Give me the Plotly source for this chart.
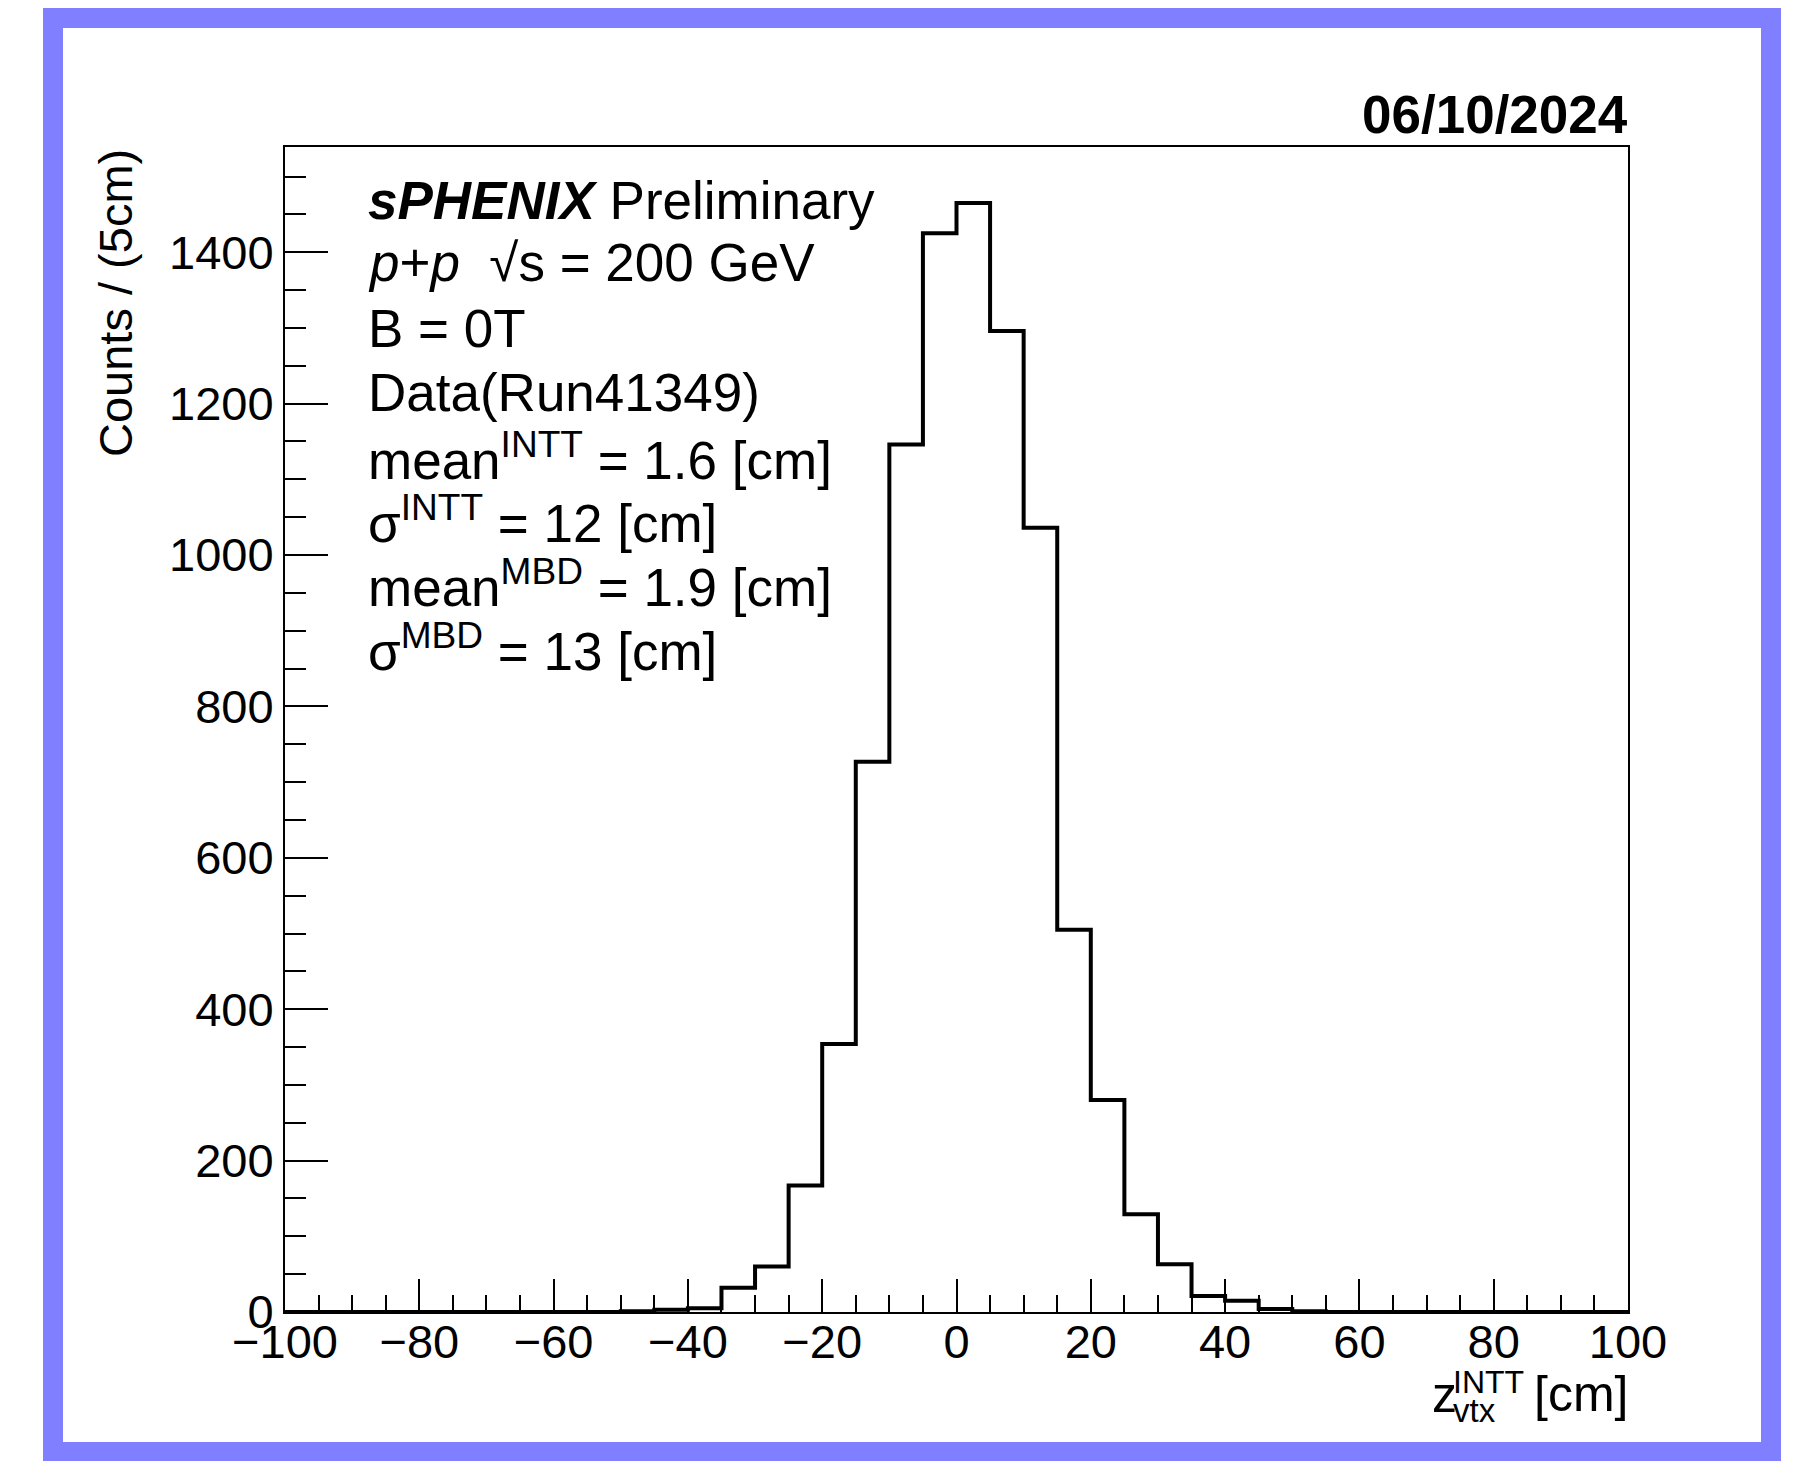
import plotly.graph_objects as go

# ---------------- data ----------------
bin_edges = [-100 + 5 * i for i in range(41)]
counts = [0, 0, 0, 0, 0, 0, 0, 0, 0, 0,
          1, 3, 5, 32, 60, 167, 354, 727, 1146, 1425,
          1465, 1296, 1036, 505, 280, 129, 63, 21, 15, 4,
          1, 0, 0, 0, 0, 0, 0, 0, 0, 0]
legend_lines = [
    "<b><i>sPHENIX</i></b> Preliminary",
    "<i>p</i>+<i>p</i>  √s = 200 GeV",
    "B = 0T",
    "Data(Run41349)",
    "mean<sup>INTT</sup> = 1.6 [cm]",
    "σ<sup>INTT</sup> = 12 [cm]",
    "mean<sup>MBD</sup> = 1.9 [cm]",
    "σ<sup>MBD</sup> = 13 [cm]",
]
date_label = "06/10/2024"
y_title = "Counts / (5cm)"

# ---------------- geometry ----------------
W, H = 1803, 1461
L, R, T, B = 285, 1628, 147, 1312
pw, ph = R - L, B - T


def px(x):
    return (x - L) / pw


def py(y):
    return (B - y) / ph


FONT = "Liberation Sans, Arial, Helvetica, sans-serif"

fig = go.Figure()
fig.add_trace(go.Scatter(
    x=bin_edges, y=counts + [counts[-1]],
    mode="lines", line=dict(color="black", width=4, shape="hv"),
    showlegend=False, hoverinfo="skip", cliponaxis=False,
))

axis_common = dict(
    showline=True, linecolor="black", linewidth=2, mirror=True,
    ticks="inside", tickcolor="black", tickwidth=2,
    showgrid=False, zeroline=False,
    tickfont=dict(family=FONT, size=47, color="black"),
)

fig.update_xaxes(range=[-100, 100], dtick=20, tick0=0, ticklen=33,
                 minor=dict(dtick=5, ticklen=17, ticks="inside", tickcolor="black", tickwidth=2),
                 ticklabelstandoff=-12,
                 **axis_common)
fig.update_yaxes(range=[0, 1539], dtick=200, tick0=0, ticklen=43,
                 minor=dict(dtick=50, ticklen=21, ticks="inside", tickcolor="black", tickwidth=2),
                 **axis_common)

ann = []
# legend text
centers = [204, 267, 332, 396, 460, 523, 587, 651]
for txt, c in zip(legend_lines, centers):
    ann.append(dict(text=txt, x=px(366), y=py(c - 4), xanchor="left", yanchor="middle",
                    font=dict(family=FONT, size=53, color="black")))
# date
ann.append(dict(text="<b>" + date_label + "</b>", x=px(1630), y=py(146), xanchor="right",
                yanchor="bottom", font=dict(family=FONT, size=53, color="black")))
# y title
ann.append(dict(text=y_title, x=px(115), y=1.0, xanchor="center", yanchor="top", textangle=-90,
                font=dict(family=FONT, size=47, color="black")))
# x title pieces
ann.append(dict(text="z", x=px(1430), y=py(1395), xanchor="left", yanchor="middle",
                font=dict(family=FONT, size=50, color="black")))
ann.append(dict(text="INTT", x=px(1451), y=py(1382), xanchor="left", yanchor="middle",
                font=dict(family=FONT, size=32, color="black")))
ann.append(dict(text="vtx", x=px(1451), y=py(1411), xanchor="left", yanchor="middle",
                font=dict(family=FONT, size=33, color="black")))
ann.append(dict(text="[cm]", x=px(1630), y=py(1394), xanchor="right", yanchor="middle",
                font=dict(family=FONT, size=50, color="black")))
for a in ann:
    a.update(xref="paper", yref="paper", showarrow=False)

shapes = [dict(type="rect", xref="paper", yref="paper",
               x0=px(53), x1=px(1771), y0=py(1452), y1=py(18),
               line=dict(color="#7f7fff", width=20), layer="below")]

fig.update_layout(
    width=W, height=H,
    margin=dict(l=L, r=W - R, t=T, b=H - B, pad=0),
    paper_bgcolor="white", plot_bgcolor="white",
    annotations=ann, shapes=shapes,
    font=dict(family=FONT, color="black"),
)

fig.write_html("out.html")
